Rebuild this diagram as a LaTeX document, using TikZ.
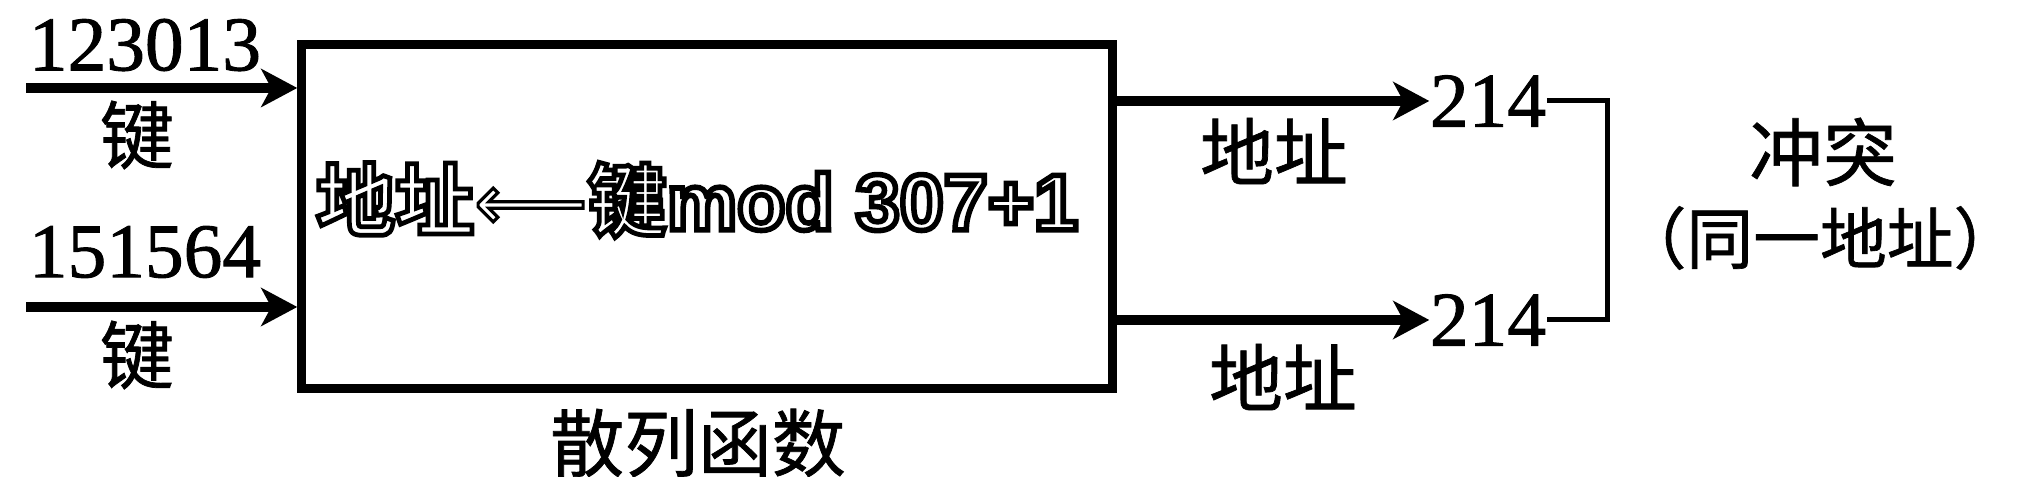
\documentclass[tikz,border=0pt]{standalone}
\usepackage{fontspec}
\setmainfont{Liberation Serif}
\newfontfamily\numf[FakeBold=1.2]{Liberation Serif}
\newfontfamily\cjk[FakeBold=1]{Noto Sans CJK SC}
\newfontfamily\cjkhalo[UprightFont={* Bold}, FakeBold=6]{Noto Sans CJK SC}
\newfontfamily\sanshalo[UprightFont={* Bold}, FakeBold=7]{Liberation Sans}
\newfontfamily\arrhalo[FakeBold=4]{DejaVu Sans}
\usetikzlibrary{arrows.meta}
\newcommand\outlined[1]{{\color{white}\special{pdf:literal direct 0 G}#1}}
\begin{document}
\begin{tikzpicture}[x=0.01cm,y=-0.01cm,
  num/.style={inner sep=0pt, font=\numf\fontsize{22pt}{22pt}\selectfont},
  zh/.style={inner sep=0pt, font=\cjk\fontsize{21pt}{21pt}\selectfont},
  zhs/.style={inner sep=0pt, font=\cjk\fontsize{19pt}{19pt}\selectfont},
  arr/.style={line width=0.1cm, -{Stealth[length=0.36cm,width=0.38cm,inset=0.1cm]}},
  thinline/.style={line width=0.05cm},
  hashbox/.style={draw, line width=0.09cm, minimum width=8.1cm, minimum height=3.43cm, inner sep=0pt}]
\useasboundingbox (0,0) rectangle (2028,477);
% main box
\node[hashbox] (box) at (707,216.5) {};
\node[inner sep=0pt, font=\fontsize{22.5pt}{22.5pt}\selectfont] (func) at (697,200)
  {\outlined{{\cjkhalo 地址}{\arrhalo ⟵}{\cjkhalo 键}{\sanshalo mod 307+1}}};
\node[zh] (name) at (698,443) {散列函数};
% inputs
\node[num] (k1) at (145,45) {123013};
\node[zh] (j1) at (137,135) {键};
\node[num] (k2) at (145,252) {151564};
\node[zh] (j2) at (137,355) {键};
\coordinate (s1) at (26,88);
\coordinate (s2) at (26,307);
\draw[arr] (s1) -- (s1 -| box.west);
\draw[arr] (s2) -- (s2 -| box.west);
% outputs
\node[num] (t1) at (1488,101) {214};
\node[num] (t2) at (1488,320) {214};
\node[zh] (a1) at (1274,151) {地址};
\node[zh] (a2) at (1283,377) {地址};
\draw[arr] (t1.west -| box.east) -- (t1.west);
\draw[arr] (t2.west -| box.east) -- (t2.west);
% collision bracket
\coordinate (c1) at (1607,101);
\coordinate (c2) at (1607,320);
\draw[thinline] (t1.east) -- (c1) -- (c2) -- (t2.east);
\node[zh] (cf) at (1823,152) {冲突};
\node[zhs] (same) at (1820,238) {（同一地址）};
\end{tikzpicture}
\end{document}
